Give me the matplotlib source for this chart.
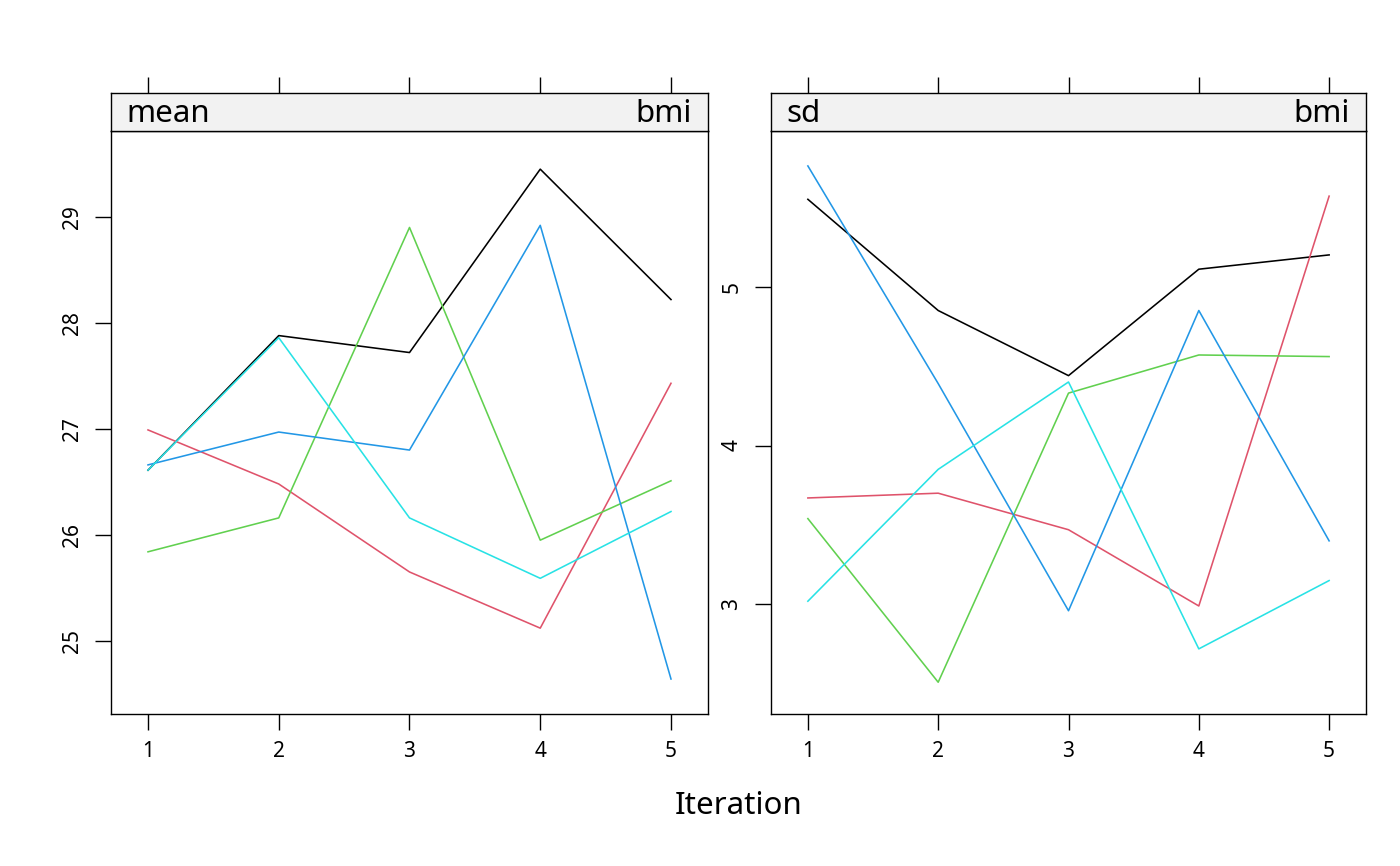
import matplotlib
matplotlib.use("Agg")
import matplotlib.pyplot as plt

plt.rcParams['font.family'] = ['Noto Sans', 'DejaVu Sans']

iterations = [1, 2, 3, 4, 5]
colors = ["#000000", "#DF536B", "#61D04F", "#2297E6", "#28E2E5"]

mean_chains = [
    [26.61, 27.88, 27.72, 29.45, 28.22],
    [26.99, 26.48, 25.65, 25.12, 27.43],
    [25.84, 26.16, 28.90, 25.95, 26.51],
    [26.66, 26.97, 26.80, 28.92, 24.64],
    [26.61, 27.86, 26.16, 25.59, 26.22],
]
sd_chains = [
    [5.55, 4.85, 4.44, 5.11, 5.20],
    [3.67, 3.70, 3.47, 2.99, 5.57],
    [3.54, 2.51, 4.33, 4.57, 4.56],
    [5.76, 4.39, 2.96, 4.85, 3.40],
    [3.02, 3.85, 4.40, 2.72, 3.15],
]
mean_ticks = [25, 26, 27, 28, 29]
sd_ticks = [3, 4, 5]
panel_left = ["mean", "sd"]
panel_right = ["bmi", "bmi"]
xlabel = "Iteration"

W, H = 1400, 866
fig = plt.figure(figsize=(W / 100, H / 100), dpi=100)

def fx(px):
    return px / W

def fy(py):
    return 1 - py / H

panels = [
    (111, 708, mean_chains, mean_ticks, (24.31, 29.81)),
    (771, 1366, sd_chains, sd_ticks, (2.31, 5.98)),
]
top_plot, bot_plot, strip_top = 131, 714, 93

for i, (x0, x1, chains, yt, ylim) in enumerate(panels):
    ax = fig.add_axes([fx(x0), fy(bot_plot), fx(x1 - x0), fy(top_plot) - fy(bot_plot)])
    for c, vals in zip(colors, chains):
        ax.plot(iterations, vals, color=c, lw=1.15)
    ax.set_xlim(0.717, 5.283)
    ax.set_ylim(*ylim)
    ax.set_xticks(iterations)
    ax.set_yticks(yt)
    ax.tick_params(axis='x', direction='out', length=11.5, width=1, labelsize=15, pad=8)
    ax.tick_params(axis='y', direction='out', length=11.5, width=1, labelsize=15, pad=9)
    for lab in ax.get_yticklabels():
        lab.set_rotation(90)
        lab.set_va('center')
    for s in ax.spines.values():
        s.set_linewidth(1)

    sax = fig.add_axes([fx(x0), fy(top_plot), fx(x1 - x0), fy(strip_top) - fy(top_plot)])
    sax.set_facecolor("#F2F2F2")
    sax.set_xlim(0.717, 5.283)
    sax.set_ylim(0, 1)
    sax.set_yticks([])
    sax.set_xticks(iterations)
    sax.xaxis.tick_top()
    sax.tick_params(axis='x', direction='out', length=11.5, width=1, labeltop=False, labelbottom=False)
    for s in sax.spines.values():
        s.set_linewidth(1)
    sax.text(0.026, 0.45, panel_left[i], transform=sax.transAxes, ha='left', va='center', fontsize=22.5)
    sax.text(0.972, 0.45, panel_right[i], transform=sax.transAxes, ha='right', va='center', fontsize=22.5)

fig.text(fx(739), fy(806), xlabel, ha='center', va='center', fontsize=22.5)

fig.savefig("out.png", dpi=100)
